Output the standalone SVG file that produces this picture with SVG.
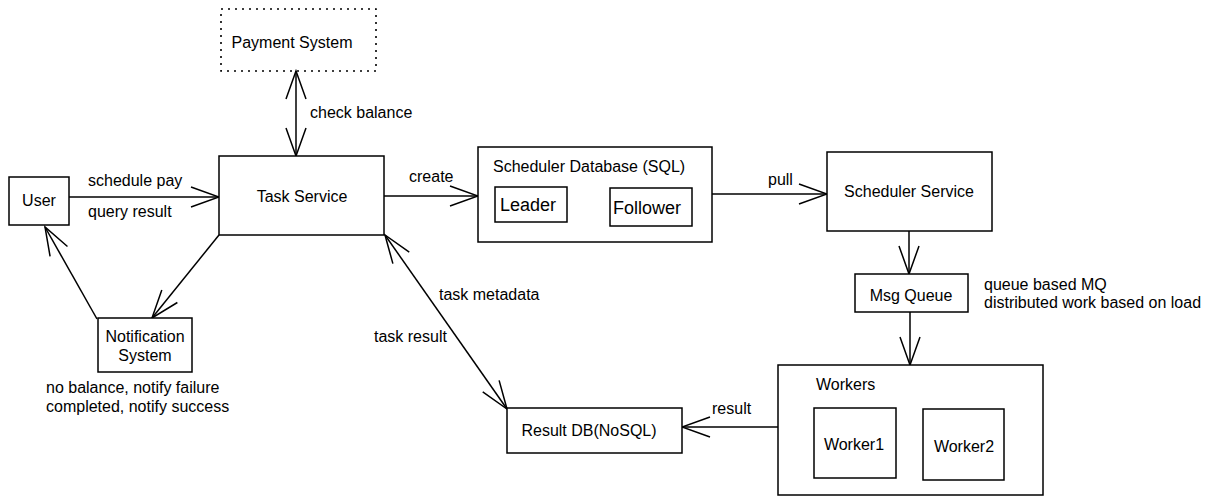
<svg xmlns="http://www.w3.org/2000/svg" width="1211" height="504" viewBox="0 0 1211 504">
<defs>
<style>
.box{fill:#fff;stroke:#000;stroke-width:1.5}
.dot{fill:none;stroke:#000;stroke-width:1.6;stroke-dasharray:2 5}
.t{font-family:"Liberation Sans",Arial,sans-serif;font-size:16px;fill:#000}
.c{text-anchor:middle}
.big{font-size:18px}
.e{fill:none;stroke:#000;stroke-width:1.5}
</style>
<marker id="ah" markerUnits="userSpaceOnUse" viewBox="-30 -12 32 24" refX="0" refY="0" markerWidth="32" markerHeight="24" orient="auto-start-reverse">
<path d="M-28,-10 L0,0 L-28,10" fill="none" stroke="#000" stroke-width="1.5"/>
</marker>
<marker id="ahs" markerUnits="userSpaceOnUse" viewBox="-22 -8 24 16" refX="0" refY="0" markerWidth="24" markerHeight="16" orient="auto">
<path d="M-20,-6 L0,0 L-20,6" fill="none" stroke="#000" stroke-width="1.4"/>
</marker>
</defs>
<rect width="1211" height="504" fill="#fff"/>

<g id="connectors">
<line class="e" x1="296" y1="71" x2="296" y2="156" marker-start="url(#ah)" marker-end="url(#ah)"/>
<line class="e" x1="69" y1="197" x2="219" y2="197" marker-end="url(#ah)"/>
<line class="e" x1="219" y1="235" x2="152" y2="318" marker-end="url(#ah)"/>
<line class="e" x1="97" y1="319" x2="45" y2="227" marker-end="url(#ah)"/>
<line class="e" x1="384" y1="196" x2="478" y2="196" marker-end="url(#ah)"/>
<line class="e" x1="567" y1="203" x2="610" y2="203" marker-end="url(#ahs)"/>
<line class="e" x1="712" y1="194" x2="827" y2="194" marker-end="url(#ah)"/>
<line class="e" x1="909" y1="231" x2="909" y2="274" marker-end="url(#ah)"/>
<line class="e" x1="910" y1="312" x2="910" y2="365" marker-end="url(#ah)"/>
<line class="e" x1="778" y1="427" x2="682" y2="427" marker-end="url(#ah)"/>
<line class="e" x1="385" y1="235" x2="507" y2="409" marker-start="url(#ah)" marker-end="url(#ah)"/>
<text class="t" x="310" y="118">check balance</text>
<text class="t" x="88" y="186">schedule pay</text>
<text class="t" x="88" y="217">query result</text>
<text class="t" x="409" y="182">create</text>
<text class="t" x="768" y="185">pull</text>
<text class="t" x="712" y="414">result</text>
<text class="t" x="439" y="300">task metadata</text>
<text class="t" x="374" y="342">task result</text>
</g>

<g id="payment">
<rect class="dot" x="221" y="9" width="155" height="62"/>
<text class="t c" x="292" y="48">Payment System</text>
</g>

<g id="task-service">
<rect class="box" x="219" y="156" width="165" height="79"/>
<text class="t c" x="302" y="202">Task Service</text>
</g>

<g id="user">
<rect class="box" x="9" y="177" width="60" height="48"/>
<text class="t c" x="39" y="206">User</text>
</g>

<g id="notification">
<rect class="box" x="98" y="318" width="94" height="54"/>
<text class="t c" x="145" y="342">Notification</text>
<text class="t c" x="145" y="361">System</text>
<text class="t" x="46" y="393">no balance, notify failure</text>
<text class="t" x="46" y="412">completed, notify success</text>
</g>

<g id="scheduler-db">
<rect class="box" x="478" y="147" width="234" height="95"/>
<text class="t" x="493" y="172">Scheduler Database (SQL)</text>
</g>

<g id="leader">
<rect class="box" x="495" y="187" width="72" height="35"/>
<text class="t big" x="500" y="211">Leader</text>
</g>

<g id="follower">
<rect class="box" x="610" y="188" width="82" height="38"/>
<text class="t big" x="613" y="214">Follower</text>
</g>

<g id="scheduler-service">
<rect class="box" x="827" y="152" width="165" height="79"/>
<text class="t c" x="909" y="197">Scheduler Service</text>
</g>

<g id="msg-queue">
<rect class="box" x="855" y="274" width="113" height="38"/>
<text class="t c" x="911" y="301">Msg Queue</text>
<text class="t" x="984" y="290">queue based MQ</text>
<text class="t" x="984" y="308">distributed work based on load</text>
</g>

<g id="workers">
<rect class="box" x="778" y="365" width="265" height="130"/>
<text class="t" x="816" y="390">Workers</text>
</g>

<g id="worker1">
<rect class="box" x="814" y="408" width="82" height="70"/>
<text class="t c" x="854" y="450">Worker1</text>
</g>

<g id="worker2">
<rect class="box" x="923" y="409" width="81" height="71"/>
<text class="t c" x="964" y="452">Worker2</text>
</g>

<g id="result-db">
<rect class="box" x="507" y="408" width="175" height="45"/>
<text class="t c" x="589" y="436">Result DB(NoSQL)</text>
</g>
</svg>
